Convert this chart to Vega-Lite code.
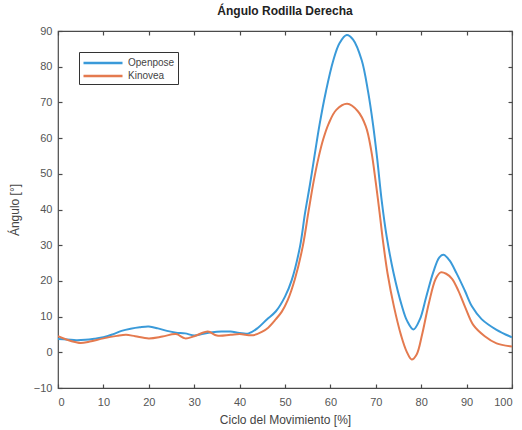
{
  "$schema": "https://vega.github.io/schema/vega-lite/v6.json",
  "width": 454,
  "height": 357,
  "autosize": {"type": "none"},
  "padding": {"left": 58, "top": 31, "right": 10, "bottom": 42},
  "background": "white",
  "title": {"text": "Ángulo Rodilla Derecha", "font": "Liberation Sans", "fontSize": 12, "fontWeight": "bold", "color": "#222222", "offset": 7},
  "config": {
    "view": {"stroke": "#4a4a4a", "strokeWidth": 1.2},
    "axis": {"labelFont": "Liberation Sans", "titleFont": "Liberation Sans", "labelFontSize": 11, "titleFontSize": 12, "labelColor": "#555555", "titleColor": "#444444", "titleFontWeight": "normal", "grid": false, "domain": false, "tickColor": "#4a4a4a", "tickSize": 4, "tickWidth": 1.2, "offset": -4}
  },
  "data": {"values": [
    {"x": 0, "v": 3.7, "s": "Openpose"}, {"x": 2, "v": 3.6, "s": "Openpose"}, {"x": 4, "v": 3.4, "s": "Openpose"}, {"x": 6, "v": 3.5, "s": "Openpose"}, {"x": 8, "v": 3.8, "s": "Openpose"}, {"x": 10, "v": 4.2, "s": "Openpose"}, {"x": 12, "v": 5.0, "s": "Openpose"}, {"x": 14, "v": 6.0, "s": "Openpose"}, {"x": 16, "v": 6.6, "s": "Openpose"}, {"x": 18, "v": 7.0, "s": "Openpose"}, {"x": 20, "v": 7.2, "s": "Openpose"}, {"x": 22, "v": 6.7, "s": "Openpose"}, {"x": 24, "v": 6.0, "s": "Openpose"}, {"x": 26, "v": 5.5, "s": "Openpose"}, {"x": 28, "v": 5.3, "s": "Openpose"}, {"x": 30, "v": 4.7, "s": "Openpose"}, {"x": 32, "v": 5.2, "s": "Openpose"}, {"x": 34, "v": 5.6, "s": "Openpose"}, {"x": 36, "v": 5.8, "s": "Openpose"}, {"x": 38, "v": 5.8, "s": "Openpose"}, {"x": 40, "v": 5.4, "s": "Openpose"}, {"x": 42, "v": 5.3, "s": "Openpose"}, {"x": 44, "v": 6.8, "s": "Openpose"}, {"x": 46, "v": 9.2, "s": "Openpose"}, {"x": 48, "v": 11.5, "s": "Openpose"}, {"x": 50, "v": 15.6, "s": "Openpose"}, {"x": 51.5, "v": 20.3, "s": "Openpose"}, {"x": 53.3, "v": 29.6, "s": "Openpose"}, {"x": 54.4, "v": 38.9, "s": "Openpose"}, {"x": 55.5, "v": 47.0, "s": "Openpose"}, {"x": 56.5, "v": 55.0, "s": "Openpose"}, {"x": 57.6, "v": 63.7, "s": "Openpose"}, {"x": 59.0, "v": 73.0, "s": "Openpose"}, {"x": 60.6, "v": 81.6, "s": "Openpose"}, {"x": 62, "v": 86.6, "s": "Openpose"}, {"x": 63.6, "v": 88.9, "s": "Openpose"}, {"x": 65, "v": 87.6, "s": "Openpose"}, {"x": 66.9, "v": 81.8, "s": "Openpose"}, {"x": 68.3, "v": 73.0, "s": "Openpose"}, {"x": 69.4, "v": 63.7, "s": "Openpose"}, {"x": 70.3, "v": 54.3, "s": "Openpose"}, {"x": 71.3, "v": 42.5, "s": "Openpose"}, {"x": 72.4, "v": 32.4, "s": "Openpose"}, {"x": 73.9, "v": 22.3, "s": "Openpose"}, {"x": 75.7, "v": 13.2, "s": "Openpose"}, {"x": 76.9, "v": 8.8, "s": "Openpose"}, {"x": 78.3, "v": 6.4, "s": "Openpose"}, {"x": 79.7, "v": 9.2, "s": "Openpose"}, {"x": 81.1, "v": 15.5, "s": "Openpose"}, {"x": 82.7, "v": 22.6, "s": "Openpose"}, {"x": 84.0, "v": 26.6, "s": "Openpose"}, {"x": 84.9, "v": 27.3, "s": "Openpose"}, {"x": 86.2, "v": 25.8, "s": "Openpose"}, {"x": 87.8, "v": 22.1, "s": "Openpose"}, {"x": 89.6, "v": 17.3, "s": "Openpose"}, {"x": 91.2, "v": 12.8, "s": "Openpose"}, {"x": 93.3, "v": 9.3, "s": "Openpose"}, {"x": 96.6, "v": 6.3, "s": "Openpose"}, {"x": 100, "v": 4.2, "s": "Openpose"},
    {"x": 0, "v": 4.5, "s": "Kinovea"}, {"x": 2, "v": 3.5, "s": "Kinovea"}, {"x": 4, "v": 2.8, "s": "Kinovea"}, {"x": 5, "v": 2.6, "s": "Kinovea"}, {"x": 7, "v": 3.0, "s": "Kinovea"}, {"x": 10, "v": 3.9, "s": "Kinovea"}, {"x": 13, "v": 4.6, "s": "Kinovea"}, {"x": 15, "v": 4.9, "s": "Kinovea"}, {"x": 17, "v": 4.5, "s": "Kinovea"}, {"x": 20, "v": 3.9, "s": "Kinovea"}, {"x": 23, "v": 4.4, "s": "Kinovea"}, {"x": 26, "v": 5.1, "s": "Kinovea"}, {"x": 28, "v": 3.9, "s": "Kinovea"}, {"x": 30, "v": 4.5, "s": "Kinovea"}, {"x": 33, "v": 5.8, "s": "Kinovea"}, {"x": 35, "v": 4.7, "s": "Kinovea"}, {"x": 38, "v": 4.9, "s": "Kinovea"}, {"x": 40, "v": 5.1, "s": "Kinovea"}, {"x": 43, "v": 4.8, "s": "Kinovea"}, {"x": 45, "v": 5.8, "s": "Kinovea"}, {"x": 46.3, "v": 6.9, "s": "Kinovea"}, {"x": 48, "v": 9.3, "s": "Kinovea"}, {"x": 49.3, "v": 11.4, "s": "Kinovea"}, {"x": 50.6, "v": 14.6, "s": "Kinovea"}, {"x": 52.2, "v": 20.6, "s": "Kinovea"}, {"x": 53.9, "v": 29.6, "s": "Kinovea"}, {"x": 55.2, "v": 39.6, "s": "Kinovea"}, {"x": 56.3, "v": 47.8, "s": "Kinovea"}, {"x": 57.4, "v": 54.6, "s": "Kinovea"}, {"x": 58.4, "v": 59.6, "s": "Kinovea"}, {"x": 59.6, "v": 64.0, "s": "Kinovea"}, {"x": 61.3, "v": 67.9, "s": "Kinovea"}, {"x": 63.7, "v": 69.6, "s": "Kinovea"}, {"x": 66, "v": 67.6, "s": "Kinovea"}, {"x": 67.8, "v": 63.3, "s": "Kinovea"}, {"x": 69.0, "v": 56.5, "s": "Kinovea"}, {"x": 70.0, "v": 47.5, "s": "Kinovea"}, {"x": 70.8, "v": 39.5, "s": "Kinovea"}, {"x": 71.6, "v": 31.0, "s": "Kinovea"}, {"x": 72.6, "v": 22.0, "s": "Kinovea"}, {"x": 74.0, "v": 12.8, "s": "Kinovea"}, {"x": 75.6, "v": 4.6, "s": "Kinovea"}, {"x": 76.8, "v": 0.2, "s": "Kinovea"}, {"x": 77.9, "v": -2.0, "s": "Kinovea"}, {"x": 79.0, "v": -0.6, "s": "Kinovea"}, {"x": 80.2, "v": 5.0, "s": "Kinovea"}, {"x": 81.7, "v": 13.8, "s": "Kinovea"}, {"x": 83.2, "v": 20.6, "s": "Kinovea"}, {"x": 84.3, "v": 22.4, "s": "Kinovea"}, {"x": 85.5, "v": 22.0, "s": "Kinovea"}, {"x": 86.8, "v": 20.6, "s": "Kinovea"}, {"x": 88.2, "v": 17.2, "s": "Kinovea"}, {"x": 89.7, "v": 12.6, "s": "Kinovea"}, {"x": 91.5, "v": 7.6, "s": "Kinovea"}, {"x": 94.0, "v": 4.5, "s": "Kinovea"}, {"x": 96.6, "v": 2.5, "s": "Kinovea"}, {"x": 100, "v": 1.6, "s": "Kinovea"}
  ]},
  "layer": [
    {
      "mark": {"type": "line", "interpolate": "catmull-rom", "strokeWidth": 2, "clip": true},
      "encoding": {
        "x": {"field": "x", "type": "quantitative", "scale": {"domain": [0, 100], "nice": false, "zero": false}, "axis": {"orient": "bottom", "title": "Ciclo del Movimiento [%]", "values": [0,10,20,30,40,50,60,70,80,90,100], "labelPadding": 8, "titlePadding": 7}},
        "y": {"field": "v", "type": "quantitative", "scale": {"domain": [-10, 90], "nice": false, "zero": false}, "axis": {"orient": "left", "title": "Ángulo [°]", "values": [-10,0,10,20,30,40,50,60,70,80,90], "labelPadding": 6, "titlePadding": 12}},
        "color": {"field": "s", "type": "nominal", "scale": {"domain": ["Openpose", "Kinovea"], "range": ["#3a9ad9", "#e47a4f"]}, "legend": {"title": null, "orient": "none", "legendX": 21, "legendY": 21, "symbolType": "M-3,0L3,0", "symbolSize": 169, "symbolStrokeWidth": 2.5, "symbolFillColor": "transparent", "symbolOffset": 13, "labelFont": "Liberation Sans", "labelFontSize": 10, "labelColor": "#444444", "strokeColor": "#333333", "padding": 3, "rowPadding": 0, "labelOffset": 17, "fillColor": "white"}},
        "order": {"field": "x", "type": "quantitative"}
      }
    },
    {
      "mark": {"type": "line", "opacity": 0},
      "encoding": {
        "x": {"field": "x", "type": "quantitative", "axis": {"orient": "top", "title": null, "labels": false, "values": [0,10,20,30,40,50,60,70,80,90,100]}},
        "y": {"field": "v", "type": "quantitative", "axis": {"orient": "right", "title": null, "labels": false, "values": [-10,0,10,20,30,40,50,60,70,80,90]}},
        "detail": {"field": "s"}
      }
    }
  ],
  "resolve": {"axis": {"x": "independent", "y": "independent"}}
}
